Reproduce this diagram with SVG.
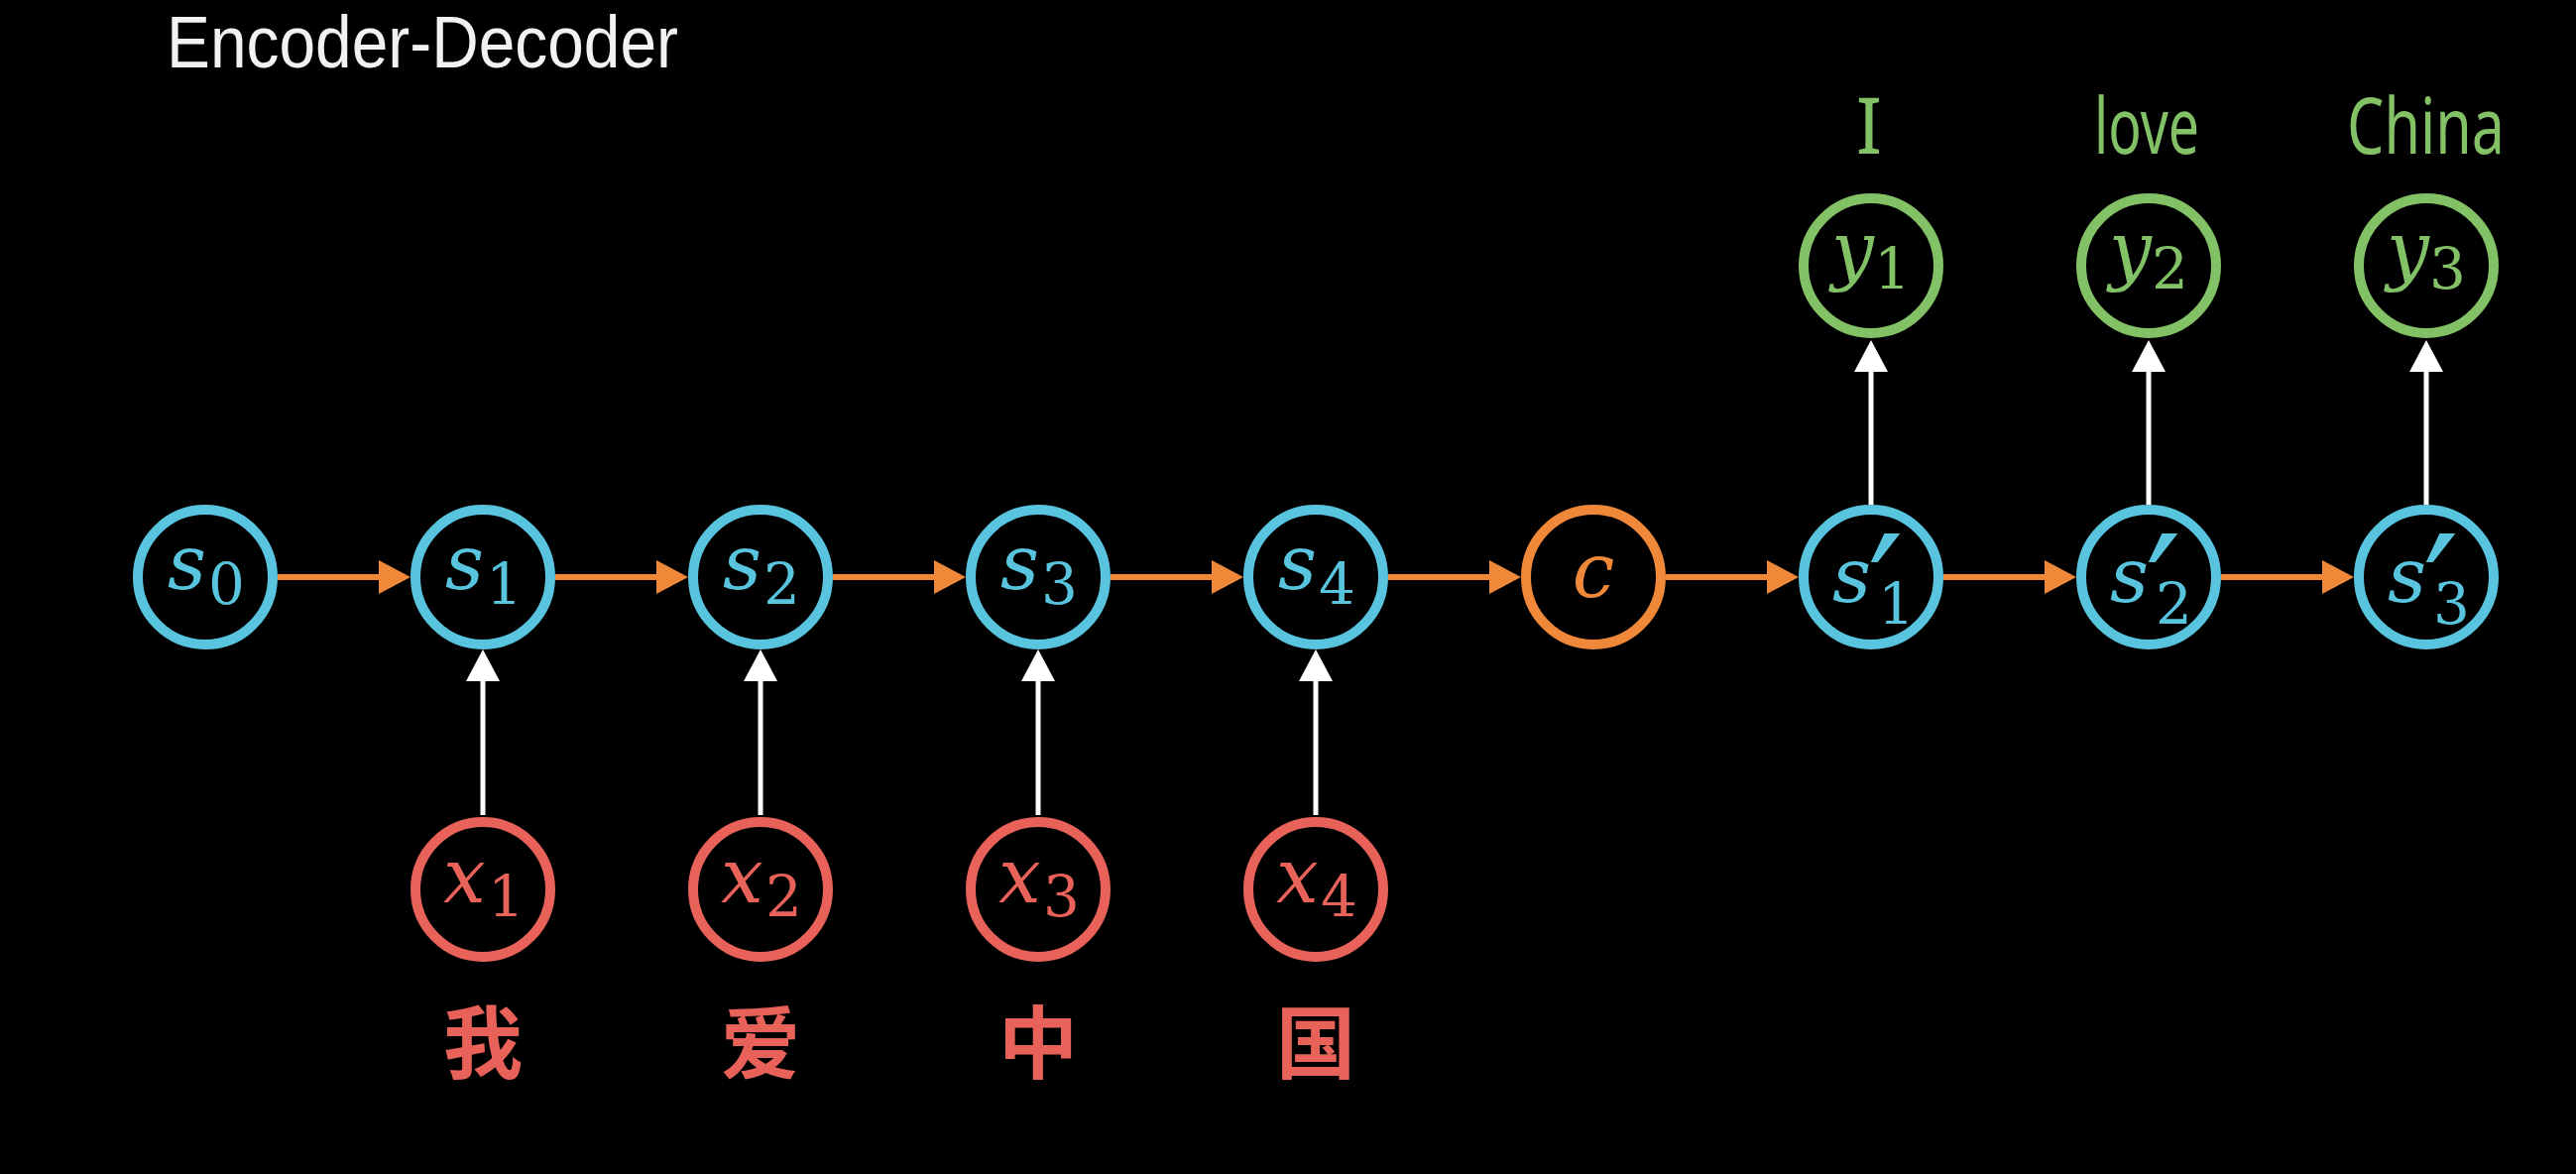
<svg xmlns="http://www.w3.org/2000/svg" width="2598" height="1184" viewBox="0 0 2598 1184">
<style>
.ns{fill:none;stroke-width:10}
.blue{stroke:#58C4DD}
.red{stroke:#E8625A}
.grn{stroke:#83C167}
.org{stroke:#F0883A}
.m{font-family:"DejaVu Serif",serif;font-style:italic;font-size:76px}
.d{font-family:"DejaVu Serif",serif;font-style:normal;font-size:58px}
.p{font-family:"DejaVu Serif",serif;font-style:normal;font-size:160px}
.tb{fill:#58C4DD}.tr{fill:#E8625A}.tg{fill:#83C167}.to{fill:#F0883A}
.lab{font-family:"Noto Sans","DejaVu Sans",sans-serif}
.cjk{font-family:"Noto Sans CJK SC",sans-serif;font-size:80px;font-weight:700;fill:#E8625A;text-anchor:middle}
</style>
<defs>
<marker id="ao" markerUnits="userSpaceOnUse" markerWidth="34" markerHeight="34" refX="4" refY="17" orient="auto">
<path d="M0,0 L32,17 L0,34 z" fill="#F0883A"/>
</marker>
<marker id="aw" markerUnits="userSpaceOnUse" markerWidth="34" markerHeight="34" refX="4" refY="17" orient="auto">
<path d="M0,0 L32,17 L0,34 z" fill="#FFFFFF"/>
</marker>
</defs>
<rect width="2598" height="1184" fill="#000000"/>
<text x="168" y="68" font-family="'Liberation Sans',Arial,sans-serif" font-size="74" fill="#F2F2F2" textLength="516" lengthAdjust="spacingAndGlyphs">Encoder-Decoder</text>

<g id="connectors">
<g stroke="#F0883A" stroke-width="6" marker-end="url(#ao)">
<line x1="280" y1="582" x2="386" y2="582"/>
<line x1="560" y1="582" x2="666" y2="582"/>
<line x1="840" y1="582" x2="946" y2="582"/>
<line x1="1120" y1="582" x2="1226" y2="582"/>
<line x1="1400" y1="582" x2="1506" y2="582"/>
<line x1="1680" y1="582" x2="1786" y2="582"/>
<line x1="1960" y1="582" x2="2066" y2="582"/>
<line x1="2240" y1="582" x2="2346" y2="582"/>
</g>
<g stroke="#FFFFFF" stroke-width="5" marker-end="url(#aw)">
<line x1="487" y1="822" x2="487" y2="683"/>
<line x1="767" y1="822" x2="767" y2="683"/>
<line x1="1047" y1="822" x2="1047" y2="683"/>
<line x1="1327" y1="822" x2="1327" y2="683"/>
<line x1="1887" y1="509" x2="1887" y2="371"/>
<line x1="2167" y1="509" x2="2167" y2="371"/>
<line x1="2447" y1="509" x2="2447" y2="371"/>
</g>
</g>

<g id="s0"><circle cx="207" cy="582" r="68" class="ns blue"/><text x="208" y="594" class="m tb" text-anchor="middle">s<tspan class="d" dx="2" dy="15">0</tspan></text></g>
<g id="s1"><circle cx="487" cy="582" r="68" class="ns blue"/><text x="488" y="594" class="m tb" text-anchor="middle">s<tspan class="d" dx="2" dy="15">1</tspan></text></g>
<g id="s2"><circle cx="767" cy="582" r="68" class="ns blue"/><text x="768" y="594" class="m tb" text-anchor="middle">s<tspan class="d" dx="2" dy="15">2</tspan></text></g>
<g id="s3"><circle cx="1047" cy="582" r="68" class="ns blue"/><text x="1048" y="594" class="m tb" text-anchor="middle">s<tspan class="d" dx="2" dy="15">3</tspan></text></g>
<g id="s4"><circle cx="1327" cy="582" r="68" class="ns blue"/><text x="1328" y="594" class="m tb" text-anchor="middle">s<tspan class="d" dx="2" dy="15">4</tspan></text></g>
<g id="c"><circle cx="1607" cy="582" r="68" class="ns org"/><text x="1607" y="602" class="m to" text-anchor="middle">c</text></g>

<g id="sp1"><circle cx="1887" cy="582" r="68" class="ns blue"/><text x="1887" y="607" class="m tb" text-anchor="end">s</text><text x="1902" y="654" class="p tb" text-anchor="middle">′</text><text x="1894" y="629" class="d tb">1</text></g>
<g id="sp2"><circle cx="2167" cy="582" r="68" class="ns blue"/><text x="2167" y="607" class="m tb" text-anchor="end">s</text><text x="2182" y="654" class="p tb" text-anchor="middle">′</text><text x="2174" y="629" class="d tb">2</text></g>
<g id="sp3"><circle cx="2447" cy="582" r="68" class="ns blue"/><text x="2447" y="607" class="m tb" text-anchor="end">s</text><text x="2462" y="654" class="p tb" text-anchor="middle">′</text><text x="2454" y="629" class="d tb">3</text></g>

<g id="x1"><circle cx="487" cy="897" r="68" class="ns red"/><text x="488" y="910" class="m tr" text-anchor="middle">x<tspan class="d" dx="2" dy="14">1</tspan></text></g>
<g id="x2"><circle cx="767" cy="897" r="68" class="ns red"/><text x="768" y="910" class="m tr" text-anchor="middle">x<tspan class="d" dx="2" dy="14">2</tspan></text></g>
<g id="x3"><circle cx="1047" cy="897" r="68" class="ns red"/><text x="1048" y="910" class="m tr" text-anchor="middle">x<tspan class="d" dx="2" dy="14">3</tspan></text></g>
<g id="x4"><circle cx="1327" cy="897" r="68" class="ns red"/><text x="1328" y="910" class="m tr" text-anchor="middle">x<tspan class="d" dx="2" dy="14">4</tspan></text></g>

<g id="y1"><circle cx="1887" cy="268" r="68" class="ns grn"/><text x="1887" y="278" class="m tg" text-anchor="middle">y<tspan class="d" dx="0" dy="13">1</tspan></text></g>
<g id="y2"><circle cx="2167" cy="268" r="68" class="ns grn"/><text x="2167" y="278" class="m tg" text-anchor="middle">y<tspan class="d" dx="0" dy="13">2</tspan></text></g>
<g id="y3"><circle cx="2447" cy="268" r="68" class="ns grn"/><text x="2447" y="278" class="m tg" text-anchor="middle">y<tspan class="d" dx="0" dy="13">3</tspan></text></g>

<g id="labels-out">
<text x="1885" y="155" class="lab tg" font-size="78" text-anchor="middle">I</text>
<text x="2112" y="155" class="lab tg" font-size="78" textLength="106" lengthAdjust="spacingAndGlyphs">love</text>
<text x="2367" y="155" class="lab tg" font-size="78" textLength="159" lengthAdjust="spacingAndGlyphs">China</text>
</g>
<g id="labels-in">
<text x="487" y="1081" class="cjk">我</text>
<text x="767" y="1081" class="cjk">爱</text>
<text x="1047" y="1081" class="cjk">中</text>
<text x="1327" y="1081" class="cjk">国</text>
</g>
</svg>
